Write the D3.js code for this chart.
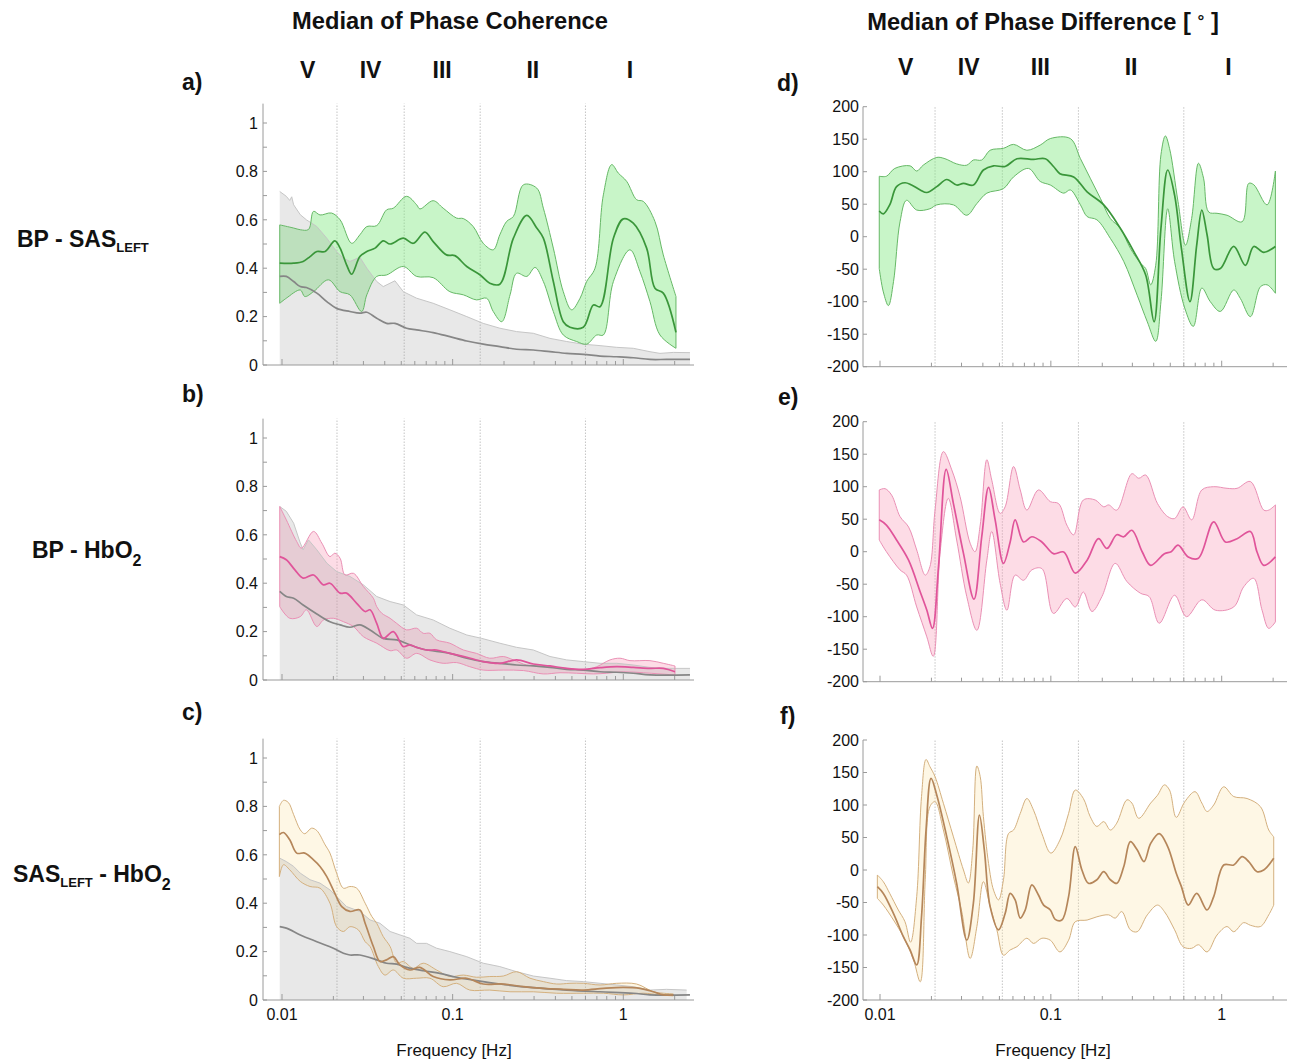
<!DOCTYPE html>
<html><head><meta charset="utf-8">
<script src="https://cdn.jsdelivr.net/npm/d3@7"></script>
<style>
body{margin:0;background:#fff;}
text{font-family:"Liberation Sans",Arial,Helvetica,sans-serif;fill:#111;}
</style>
</head><body>
<svg id="chart" width="1298" height="1063"></svg>
<script>
// ---------------- DATA ([frequency Hz, value]) ----------------
const bandEdgesHz = [0.0095, 0.021, 0.052, 0.145, 0.6, 2.0];
const bandNames = ["V", "IV", "III", "II", "I"];
const bandDividers = [0.021, 0.052, 0.145, 0.6];
const cohTickLabels = [0, 0.2, 0.4, 0.6, 0.8, 1];
const phaseTickLabels = [-200, -150, -100, -50, 0, 50, 100, 150, 200];
const freqTickLabels = [[0.01, "0.01"], [0.1, "0.1"], [1, "1"]];

// a) BP - SAS_LEFT coherence
const aGrayUpper = [[0.0097,0.717],[0.0106,0.697],[0.0111,0.68],[0.0114,0.695],[0.0117,0.662],[0.0128,0.621],[0.0139,0.600],[0.0160,0.572],[0.0183,0.524],[0.0209,0.469],[0.0229,0.441],[0.0250,0.428],[0.0286,0.445],[0.0314,0.400],[0.0359,0.345],[0.0392,0.324],[0.0459,0.348],[0.0514,0.303],[0.0615,0.276],[0.0769,0.255],[0.0963,0.228],[0.121,0.200],[0.151,0.172],[0.189,0.152],[0.237,0.138],[0.297,0.131],[0.372,0.110],[0.466,0.097],[0.583,0.086],[0.731,0.080],[0.915,0.073],[1.144,0.069],[1.433,0.055],[1.64,0.048],[1.963,0.052],[2.459,0.051]];
const aGrayMedian = [[0.0097,0.366],[0.0106,0.366],[0.0117,0.345],[0.0128,0.324],[0.0139,0.320],[0.0160,0.297],[0.0183,0.262],[0.0209,0.234],[0.0250,0.221],[0.0286,0.214],[0.0314,0.218],[0.0359,0.193],[0.0410,0.172],[0.0459,0.172],[0.0537,0.152],[0.0615,0.145],[0.0769,0.134],[0.0963,0.117],[0.121,0.099],[0.151,0.086],[0.189,0.076],[0.237,0.065],[0.297,0.062],[0.372,0.055],[0.466,0.048],[0.583,0.044],[0.731,0.037],[0.915,0.034],[1.144,0.030],[1.433,0.023],[1.794,0.023],[2.459,0.023]];
const aUpper = [[0.0097,0.579],[0.0117,0.566],[0.0128,0.559],[0.0143,0.56],[0.0153,0.635],[0.0167,0.62],[0.0195,0.628],[0.0219,0.60],[0.0256,0.503],[0.0286,0.538],[0.0314,0.572],[0.0359,0.576],[0.0410,0.641],[0.0449,0.648],[0.0537,0.697],[0.0615,0.662],[0.0643,0.645],[0.0769,0.679],[0.0880,0.648],[0.1055,0.607],[0.1155,0.605],[0.132,0.572],[0.151,0.503],[0.173,0.476],[0.189,0.538],[0.207,0.593],[0.227,0.614],[0.260,0.745],[0.311,0.731],[0.340,0.648],[0.389,0.483],[0.445,0.303],[0.498,0.228],[0.558,0.276],[0.610,0.345],[0.683,0.40],[0.764,0.703],[0.855,0.828],[0.935,0.793],[1.046,0.759],[1.197,0.683],[1.31,0.676],[1.533,0.593],[1.715,0.455],[2.035,0.283]];
const aMedian = [[0.0097,0.421],[0.0117,0.421],[0.0133,0.428],[0.0146,0.448],[0.0160,0.469],[0.0179,0.469],[0.0204,0.513],[0.0219,0.483],[0.0239,0.414],[0.0256,0.375],[0.0286,0.448],[0.0314,0.469],[0.0351,0.483],[0.0392,0.513],[0.0430,0.500],[0.0514,0.524],[0.0588,0.503],[0.0688,0.549],[0.0769,0.510],[0.0920,0.455],[0.103,0.452],[0.121,0.407],[0.145,0.372],[0.165,0.338],[0.189,0.334],[0.227,0.524],[0.272,0.618],[0.311,0.566],[0.340,0.524],[0.389,0.345],[0.445,0.179],[0.487,0.156],[0.583,0.156],[0.668,0.248],[0.731,0.241],[0.875,0.524],[1.0,0.604],[1.144,0.586],[1.37,0.483],[1.533,0.317],[1.715,0.297],[2.035,0.135]];
const aLower = [[0.0097,0.255],[0.0106,0.276],[0.0128,0.310],[0.0136,0.283],[0.0153,0.303],[0.0187,0.352],[0.0219,0.303],[0.0250,0.290],[0.0293,0.221],[0.0314,0.290],[0.0359,0.366],[0.0410,0.372],[0.0514,0.407],[0.0615,0.366],[0.0769,0.361],[0.0963,0.303],[0.1155,0.290],[0.138,0.269],[0.158,0.276],[0.173,0.221],[0.194,0.179],[0.217,0.290],[0.237,0.379],[0.272,0.366],[0.304,0.403],[0.340,0.345],[0.389,0.221],[0.445,0.124],[0.533,0.097],[0.610,0.086],[0.699,0.124],[0.764,0.124],[0.875,0.345],[1.094,0.476],[1.252,0.386],[1.433,0.262],[1.64,0.124],[2.035,0.069]];

// b) BP - HbO2 coherence
const bGrayUpper = [[0.0097,0.717],[0.0106,0.697],[0.0117,0.648],[0.0128,0.566],[0.0133,0.538],[0.0143,0.579],[0.0160,0.538],[0.0183,0.483],[0.0209,0.448],[0.0250,0.428],[0.0300,0.393],[0.0359,0.345],[0.0430,0.324],[0.0514,0.310],[0.0615,0.269],[0.0769,0.248],[0.0963,0.214],[0.121,0.186],[0.148,0.172],[0.189,0.152],[0.237,0.135],[0.297,0.124],[0.372,0.097],[0.466,0.083],[0.583,0.076],[0.731,0.069],[0.915,0.069],[1.144,0.062],[1.433,0.052],[1.794,0.048],[2.459,0.048]];
const bGrayMedian = [[0.0097,0.366],[0.0106,0.345],[0.0117,0.338],[0.0133,0.310],[0.0160,0.273],[0.0191,0.241],[0.0219,0.228],[0.0250,0.218],[0.0286,0.228],[0.0328,0.207],[0.0392,0.172],[0.0470,0.166],[0.0562,0.145],[0.0672,0.127],[0.0963,0.110],[0.121,0.090],[0.151,0.076],[0.189,0.069],[0.237,0.062],[0.297,0.058],[0.372,0.052],[0.466,0.044],[0.583,0.041],[0.731,0.034],[0.915,0.032],[1.144,0.028],[1.433,0.021],[2.459,0.021]];
const bUpper = [[0.0097,0.717],[0.0106,0.662],[0.0122,0.572],[0.0130,0.545],[0.0153,0.614],[0.0171,0.566],[0.0191,0.510],[0.0204,0.524],[0.0219,0.503],[0.0234,0.434],[0.0262,0.441],[0.0300,0.386],[0.0343,0.338],[0.0359,0.303],[0.0384,0.276],[0.0430,0.255],[0.0470,0.234],[0.0537,0.207],[0.0615,0.214],[0.0672,0.193],[0.0736,0.193],[0.0805,0.166],[0.0963,0.152],[0.1155,0.124],[0.138,0.110],[0.165,0.090],[0.198,0.097],[0.227,0.083],[0.272,0.062],[0.325,0.062],[0.372,0.055],[0.466,0.048],[0.583,0.041],[0.699,0.055],[0.836,0.083],[0.957,0.090],[1.094,0.080],[1.433,0.080],[1.715,0.069],[2.008,0.058]];
const bMedian = [[0.0097,0.510],[0.0106,0.497],[0.0119,0.455],[0.0133,0.421],[0.0153,0.434],[0.0175,0.393],[0.0191,0.400],[0.0219,0.359],[0.0239,0.359],[0.0274,0.317],[0.0307,0.283],[0.0328,0.290],[0.0359,0.234],[0.0392,0.172],[0.0449,0.200],[0.0514,0.138],[0.0562,0.145],[0.0615,0.135],[0.0703,0.124],[0.0805,0.124],[0.0963,0.110],[0.121,0.094],[0.151,0.076],[0.189,0.069],[0.237,0.083],[0.297,0.066],[0.372,0.058],[0.466,0.048],[0.583,0.044],[0.731,0.051],[0.915,0.055],[1.144,0.052],[1.433,0.048],[1.715,0.048],[2.008,0.034]];
const bLower = [[0.0097,0.303],[0.0111,0.255],[0.0128,0.262],[0.0139,0.290],[0.0160,0.221],[0.0175,0.248],[0.0200,0.255],[0.0229,0.241],[0.0262,0.221],[0.0300,0.179],[0.0359,0.152],[0.0430,0.121],[0.0470,0.124],[0.0537,0.090],[0.0615,0.110],[0.0736,0.083],[0.0880,0.069],[0.1055,0.072],[0.126,0.055],[0.151,0.041],[0.198,0.041],[0.260,0.039],[0.340,0.025],[0.426,0.030],[0.533,0.028],[0.668,0.025],[0.80,0.028],[1.0,0.034],[1.31,0.030],[1.64,0.025],[2.008,0.021]];

// c) SAS_LEFT - HbO2 coherence
const cGrayUpper = [[0.0097,0.586],[0.0106,0.572],[0.0117,0.552],[0.0128,0.524],[0.0146,0.497],[0.0167,0.483],[0.0191,0.455],[0.0209,0.428],[0.0239,0.386],[0.0286,0.366],[0.0328,0.331],[0.0375,0.317],[0.0430,0.283],[0.0491,0.269],[0.0562,0.255],[0.0615,0.234],[0.0703,0.234],[0.0805,0.214],[0.0963,0.200],[0.121,0.179],[0.151,0.152],[0.189,0.138],[0.237,0.117],[0.297,0.099],[0.372,0.090],[0.466,0.080],[0.583,0.076],[0.731,0.069],[0.915,0.062],[1.144,0.055],[1.433,0.041],[1.794,0.044],[2.35,0.041]];
const cGrayMedian = [[0.0097,0.303],[0.0106,0.297],[0.0128,0.269],[0.0160,0.241],[0.0200,0.214],[0.0229,0.193],[0.0250,0.186],[0.0286,0.186],[0.0359,0.166],[0.0410,0.152],[0.0470,0.148],[0.0537,0.135],[0.0672,0.121],[0.0841,0.110],[0.1055,0.094],[0.138,0.080],[0.189,0.066],[0.297,0.051],[0.466,0.041],[0.731,0.034],[1.144,0.028],[1.433,0.021],[2.459,0.021]];
const cUpper = [[0.00965,0.800],[0.0102,0.825],[0.0109,0.816],[0.0117,0.766],[0.0128,0.703],[0.0136,0.687],[0.0149,0.710],[0.0160,0.700],[0.0179,0.641],[0.0191,0.607],[0.0209,0.524],[0.0229,0.462],[0.0250,0.469],[0.0274,0.462],[0.0307,0.400],[0.0336,0.345],[0.0359,0.317],[0.0392,0.262],[0.0430,0.221],[0.0470,0.152],[0.0514,0.159],[0.0588,0.131],[0.0672,0.152],[0.0805,0.124],[0.0963,0.097],[0.1155,0.103],[0.138,0.094],[0.165,0.097],[0.198,0.099],[0.237,0.117],[0.284,0.090],[0.340,0.076],[0.407,0.066],[0.487,0.069],[0.583,0.069],[0.731,0.062],[0.915,0.069],[1.197,0.066],[1.499,0.034],[1.715,0.028],[1.963,0.025]];
const cMedian = [[0.00965,0.683],[0.0102,0.692],[0.0111,0.662],[0.0122,0.607],[0.0136,0.607],[0.0153,0.579],[0.0167,0.552],[0.0183,0.510],[0.0204,0.441],[0.0224,0.386],[0.0250,0.366],[0.0286,0.372],[0.0307,0.317],[0.0343,0.221],[0.0375,0.159],[0.0410,0.166],[0.0449,0.179],[0.0491,0.145],[0.0562,0.124],[0.0643,0.135],[0.0769,0.097],[0.0963,0.083],[0.121,0.090],[0.151,0.066],[0.198,0.066],[0.260,0.055],[0.340,0.048],[0.445,0.044],[0.583,0.041],[0.764,0.048],[1.0,0.052],[1.252,0.048],[1.499,0.034],[1.715,0.021],[1.963,0.021]];
const cLower = [[0.00965,0.510],[0.0102,0.559],[0.0111,0.538],[0.0128,0.490],[0.0146,0.469],[0.0167,0.462],[0.0191,0.400],[0.0209,0.303],[0.0229,0.283],[0.0250,0.303],[0.0280,0.290],[0.0307,0.241],[0.0328,0.221],[0.0367,0.138],[0.0401,0.103],[0.0449,0.124],[0.0514,0.090],[0.0615,0.090],[0.0736,0.090],[0.0880,0.055],[0.1055,0.069],[0.126,0.041],[0.165,0.041],[0.217,0.034],[0.297,0.034],[0.407,0.028],[0.583,0.028],[0.764,0.028],[1.0,0.021],[1.31,0.028],[1.64,0.021],[1.963,0.017]];

// d) BP - SAS_LEFT phase
const dUpper = [[0.0099,93],[0.0109,93],[0.0122,105],[0.0150,109],[0.0164,101],[0.0179,110],[0.0215,122],[0.0240,120],[0.0281,112],[0.0322,110],[0.0352,118],[0.0394,118],[0.0441,133],[0.0528,136],[0.0605,142],[0.0724,133],[0.0867,141],[0.0993,151],[0.130,151],[0.149,120],[0.170,90],[0.195,59],[0.223,28],[0.255,13],[0.292,-18],[0.335,-41],[0.359,-49],[0.384,-74],[0.411,-44],[0.441,126],[0.468,155],[0.495,136],[0.555,54],[0.614,-13],[0.667,28],[0.731,113],[0.783,90],[0.839,38],[0.939,36],[1.075,33],[1.316,23],[1.439,82],[1.54,80],[1.843,49],[2.062,101]];
const dMedian = [[0.0099,39.5],[0.01046,35],[0.0114,49],[0.0125,77],[0.0140,83],[0.0153,79.5],[0.0172,72],[0.0188,68],[0.0215,77],[0.0246,88],[0.0281,79.5],[0.0308,82],[0.0352,79.5],[0.0403,102.6],[0.0462,109],[0.0540,108],[0.0633,120],[0.0792,119],[0.0928,120],[0.1036,108],[0.113,97],[0.136,92],[0.163,69],[0.204,49],[0.255,13],[0.306,-23],[0.359,-59],[0.402,-131],[0.441,13],[0.483,102.6],[0.530,64],[0.581,-18],[0.652,-100],[0.714,-13],[0.765,41],[0.821,3],[0.898,-49],[0.982,-49],[1.176,-15],[1.376,-44],[1.54,-15],[1.762,-24],[2.062,-15]];
const dLower = [[0.0099,-49],[0.01046,-85],[0.0112,-106],[0.0120,-69],[0.0131,23],[0.0143,56],[0.0164,41],[0.0196,43],[0.0215,49],[0.0269,49],[0.0322,33],[0.0369,51],[0.0422,67],[0.0528,74],[0.0605,92],[0.0740,105],[0.0867,85],[0.0993,79.5],[0.119,67],[0.130,72],[0.149,49],[0.163,31],[0.186,26],[0.223,-2.6],[0.267,-38],[0.320,-90],[0.367,-131],[0.411,-161],[0.441,-100],[0.483,43],[0.530,-38],[0.608,-110],[0.682,-138],[0.765,-79],[0.858,-100],[0.982,-115],[1.176,-82],[1.286,-95],[1.472,-123],[1.685,-77],[1.843,-74],[2.062,-87]];

// e) BP - HbO2 phase
const eUpper = [[0.0099,95],[0.0107,97],[0.0117,87],[0.0131,54],[0.0147,38],[0.0164,2.6],[0.0184,-36],[0.0196,-23],[0.0210,64],[0.0235,154],[0.0263,126],[0.0294,85],[0.0337,13],[0.0360,0],[0.0386,41],[0.0422,141.5],[0.0451,110],[0.0505,59],[0.0540,69],[0.0605,131],[0.0662,95],[0.0724,64],[0.0846,95],[0.0993,77],[0.111,74],[0.124,41],[0.136,26],[0.155,79.5],[0.182,79.5],[0.204,69],[0.218,72],[0.243,64],[0.298,120],[0.327,113],[0.359,118],[0.421,74],[0.483,54],[0.530,51],[0.594,69],[0.667,49],[0.765,95],[0.898,100],[1.075,97.5],[1.23,97.5],[1.472,108],[1.762,64],[1.885,64],[2.062,72]];
const eMedian = [[0.0099,49],[0.0109,41],[0.0125,18],[0.0147,-13],[0.0172,-62],[0.0188,-90],[0.0203,-118],[0.0220,-23],[0.0244,126.7],[0.0269,74],[0.0308,-2.6],[0.0355,-73],[0.0394,23],[0.0432,99],[0.0472,49],[0.0528,-18],[0.0578,15],[0.0618,49],[0.0692,15],[0.0774,23],[0.0886,15],[0.1036,-3],[0.119,-0.5],[0.139,-33],[0.163,-13],[0.190,20],[0.213,5],[0.243,26],[0.267,23],[0.298,33],[0.343,-0.5],[0.384,-21],[0.462,-3],[0.506,0],[0.555,10],[0.637,-8],[0.731,-10],[0.898,46],[1.051,15],[1.23,20],[1.472,31],[1.61,-0.5],[1.762,-21],[2.062,-8]];
const eLower = [[0.0099,18],[0.0109,0],[0.0131,-28],[0.0143,-36],[0.0164,-85],[0.0188,-131],[0.0205,-161],[0.0225,0],[0.0251,82],[0.0281,18],[0.0322,-69],[0.0369,-121],[0.0422,-13],[0.0451,31],[0.0505,-49],[0.0553,-90],[0.0618,-36],[0.0692,-44],[0.0774,-28],[0.0886,-26],[0.1036,-95],[0.124,-72],[0.139,-85],[0.155,-62],[0.174,-92],[0.199,-69],[0.238,-18],[0.279,-46],[0.335,-64],[0.376,-69],[0.431,-110],[0.530,-67],[0.622,-100],[0.765,-74],[0.919,-90],[1.176,-85],[1.345,-54],[1.54,-41],[1.723,-90],[1.885,-118],[2.062,-108]];

// f) SAS_LEFT - HbO2 phase
const fUpper = [[0.00965,-7.7],[0.01046,-18],[0.0114,-36],[0.0128,-61.5],[0.0140,-79.5],[0.0151,-111],[0.0164,-41],[0.0175,113],[0.0186,170],[0.0196,159],[0.0210,143.6],[0.0235,102.6],[0.0269,51],[0.0308,0],[0.0329,-20],[0.0349,31],[0.0369,160],[0.0386,143.6],[0.0403,82],[0.0432,10],[0.0462,-31],[0.0494,-46],[0.0528,-15],[0.0565,56],[0.0605,61.5],[0.0662,87],[0.0724,110],[0.0792,92],[0.0886,56],[0.100,26],[0.113,46],[0.127,87],[0.139,123],[0.155,110],[0.170,82],[0.186,67],[0.204,74.5],[0.223,61.5],[0.243,72],[0.279,108],[0.298,103],[0.327,79.5],[0.384,103],[0.421,115],[0.462,131],[0.495,123],[0.542,81],[0.608,105],[0.698,120.5],[0.765,103],[0.821,90],[0.898,100],[1.027,128],[1.176,113],[1.407,110],[1.685,97.5],[1.885,61.5],[2.016,51]];
const fMedian = [[0.00965,-25.6],[0.01046,-36],[0.0120,-67],[0.0137,-102.6],[0.0150,-123],[0.0164,-146],[0.0175,-72],[0.0186,61.5],[0.0199,141],[0.0215,115],[0.0246,51],[0.0281,-20.5],[0.0322,-108],[0.0352,-51],[0.0382,84.6],[0.0408,31],[0.0441,-56],[0.0494,-92],[0.0540,-67],[0.0578,-36],[0.0618,-46],[0.0662,-74],[0.0708,-61.5],[0.0774,-23],[0.0846,-38.5],[0.0907,-54],[0.0993,-61.5],[0.106,-76],[0.116,-77],[0.127,-41],[0.139,36],[0.152,0],[0.166,-20.5],[0.186,-15],[0.204,-2.6],[0.223,-15],[0.243,-20.5],[0.267,5],[0.292,43.6],[0.320,31],[0.351,13],[0.384,41],[0.431,56],[0.483,36],[0.542,-5],[0.581,-25.6],[0.637,-54],[0.714,-36],[0.821,-61.5],[0.898,-41],[1.027,7.7],[1.176,7.7],[1.316,20.5],[1.439,13],[1.61,-2.6],[1.762,0],[2.016,18]];
const fLower = [[0.00965,-43.6],[0.01046,-54],[0.0120,-77],[0.0137,-102.6],[0.0157,-138],[0.0172,-172],[0.0184,-15],[0.0196,97.5],[0.0210,105],[0.0235,61.5],[0.0269,-10],[0.0301,-64],[0.0337,-136],[0.0369,-87],[0.0403,-18],[0.0441,-56],[0.0483,-92],[0.0528,-131],[0.0578,-123],[0.0633,-118],[0.0724,-105],[0.0792,-113],[0.0886,-105],[0.0993,-108],[0.113,-126],[0.127,-108],[0.139,-79.5],[0.163,-77],[0.186,-72],[0.218,-69],[0.238,-74],[0.260,-64],[0.292,-92],[0.320,-95],[0.367,-69],[0.421,-54],[0.462,-64],[0.530,-92],[0.594,-118],[0.667,-120.5],[0.731,-115],[0.821,-126],[0.939,-100],[1.075,-87],[1.176,-95],[1.345,-81],[1.472,-85],[1.685,-87],[1.885,-69],[2.016,-54]];

// ---------------- DRAWING ----------------
const svg = d3.select("#chart");

const styles = {
  green: {fill: "rgba(125,230,125,0.42)", edge: "#66b866", med: "#3a963a"},
  pink:  {fill: "rgba(250,150,180,0.33)", edge: "#ea90b5", med: "#e0549a"},
  beige: {fill: "rgba(250,228,160,0.28)", edge: "#d4b07e", med: "#b5865a"}
};

const panels = [
  {col: 0, y0: 365, y1: 123, up: aUpper, med: aMedian, low: aLower, gUp: aGrayUpper, gMed: aGrayMedian, st: styles.green, letter: "a)", lx: 182, ly: 90, xlab: false},
  {col: 0, y0: 680, y1: 438, up: bUpper, med: bMedian, low: bLower, gUp: bGrayUpper, gMed: bGrayMedian, st: styles.pink, letter: "b)", lx: 182, ly: 402, xlab: false},
  {col: 0, y0: 1000, y1: 758, up: cUpper, med: cMedian, low: cLower, gUp: cGrayUpper, gMed: cGrayMedian, st: styles.beige, letter: "c)", lx: 182, ly: 720, xlab: true},
  {col: 1, y0: 366.7, y1: 106.7, up: dUpper, med: dMedian, low: dLower, st: styles.green, letter: "d)", lx: 777, ly: 91, xlab: false},
  {col: 1, y0: 681.7, y1: 421.7, up: eUpper, med: eMedian, low: eLower, st: styles.pink, letter: "e)", lx: 778, ly: 405, xlab: false},
  {col: 1, y0: 1000, y1: 740, up: fUpper, med: fMedian, low: fLower, st: styles.beige, letter: "f)", lx: 780, ly: 724, xlab: true}
];

const colGeom = [
  {x001: 282, x1: 623.3, axisX: 263, axisEnd: 694},
  {x001: 880, x1: 1221.7, axisX: 863, axisEnd: 1287}
];

const logTicks = d3.scaleLog().domain([0.01, 2.5]).ticks();

panels.forEach(p => {
  const g = colGeom[p.col];
  const x = d3.scaleLog().domain([0.01, 1]).range([g.x001, g.x1]);
  const isPhase = p.col === 1;
  const y = isPhase ? d3.scaleLinear().domain([-200, 200]).range([p.y0, p.y1])
                    : d3.scaleLinear().domain([0, 1]).range([p.y0, p.y1]);
  const yBottom = isPhase ? y(-200) : y(0);
  const yTop = isPhase ? y(200) : y(1.08);
  const G = svg.append("g");

  // dotted band dividers
  bandDividers.forEach(f => {
    G.append("line").attr("x1", x(f)).attr("x2", x(f)).attr("y1", yBottom).attr("y2", yTop)
      .attr("stroke", "#c4c4c4").attr("stroke-width", 1).attr("stroke-dasharray", "1.5,1.5");
  });

  const smooth = d3.line().x(d => x(d[0])).y(d => y(d[1])).curve(d3.curveCatmullRom.alpha(0.5));
  const bandPath = smooth(p.up) + smooth(p.low.slice().reverse()).replace(/^M/, "L") + "Z";

  // coloured band fill
  G.append("path").attr("d", bandPath).attr("fill", p.st.fill).attr("stroke", "none");

  // gray surrogate band (coherence panels)
  if (p.gUp) {
    const area = d3.area().x(d => x(d[0])).y0(y(0)).y1(d => y(d[1])).curve(d3.curveLinear);
    G.append("path").attr("d", area(p.gUp)).attr("fill", "rgba(150,150,150,0.22)").attr("stroke", "none");
    const lin = d3.line().x(d => x(d[0])).y(d => y(d[1])).curve(d3.curveLinear);
    G.append("path").attr("d", lin(p.gUp)).attr("fill", "none").attr("stroke", "#c6c6c6").attr("stroke-width", 1);
  }

  // band edges
  G.append("path").attr("d", bandPath).attr("fill", "none").attr("stroke", p.st.edge).attr("stroke-width", 1);

  if (p.gMed) {
    G.append("path").attr("d", smooth(p.gMed)).attr("fill", "none").attr("stroke", "#868686").attr("stroke-width", 1.7);
  }
  G.append("path").attr("d", smooth(p.med)).attr("fill", "none").attr("stroke", p.st.med).attr("stroke-width", 1.7);

  // axes
  const axisColor = "#9a9a9a";
  G.append("line").attr("x1", g.axisX).attr("x2", g.axisX).attr("y1", yBottom).attr("y2", yTop)
    .attr("stroke", axisColor).attr("stroke-width", 1);
  G.append("line").attr("x1", g.axisX).attr("x2", g.axisEnd).attr("y1", yBottom).attr("y2", yBottom)
    .attr("stroke", axisColor).attr("stroke-width", 1);

  // x ticks (log)
  logTicks.forEach(t => {
    const major = [0.01, 0.1, 1].includes(t);
    G.append("line").attr("x1", x(t)).attr("x2", x(t)).attr("y1", yBottom).attr("y2", yBottom - (major ? 6 : 4))
      .attr("stroke", axisColor).attr("stroke-width", 1);
  });
  if (p.xlab) {
    freqTickLabels.forEach(([v, s]) => {
      G.append("text").attr("x", x(v)).attr("y", yBottom + 20).attr("text-anchor", "middle")
        .attr("font-size", 16).text(s);
    });
    G.append("text").attr("x", p.col === 0 ? 454 : 1053).attr("y", 1056).attr("text-anchor", "middle")
      .attr("font-size", 17).text("Frequency [Hz]");
  }

  // y ticks
  if (isPhase) {
    phaseTickLabels.forEach(v => {
      G.append("line").attr("x1", g.axisX).attr("x2", g.axisX + 4).attr("y1", y(v)).attr("y2", y(v))
        .attr("stroke", axisColor);
      G.append("text").attr("x", g.axisX - 4).attr("y", y(v)).attr("dy", "0.36em").attr("text-anchor", "end")
        .attr("font-size", 16).text(v);
    });
  } else {
    y.ticks(10).forEach(v => {
      G.append("line").attr("x1", g.axisX).attr("x2", g.axisX + 4).attr("y1", y(v)).attr("y2", y(v))
        .attr("stroke", axisColor);
    });
    cohTickLabels.forEach(v => {
      G.append("text").attr("x", g.axisX - 5).attr("y", y(v)).attr("dy", "0.36em").attr("text-anchor", "end")
        .attr("font-size", 16).text(v);
    });
  }

  // panel letter
  svg.append("text").attr("x", p.lx).attr("y", p.ly).attr("font-size", 23).attr("font-weight", "bold").text(p.letter);
});

// band roman numerals
[{x: d3.scaleLog().domain([0.01, 1]).range([282, 623.3]), yb: 78},
 {x: d3.scaleLog().domain([0.01, 1]).range([880, 1221.7]), yb: 75}].forEach(c => {
  bandNames.forEach((n, i) => {
    const fc = Math.sqrt(bandEdgesHz[i] * bandEdgesHz[i + 1]);
    svg.append("text").attr("x", c.x(fc)).attr("y", c.yb).attr("text-anchor", "middle")
      .attr("font-size", 23).attr("font-weight", "bold").text(n);
  });
});

// column titles
svg.append("text").attr("x", 450).attr("y", 29).attr("text-anchor", "middle").attr("font-size", 23.7)
  .attr("font-weight", "bold").text("Median of Phase Coherence");
const t2 = svg.append("text").attr("x", 1043).attr("y", 30).attr("text-anchor", "middle").attr("font-size", 23.7)
  .attr("font-weight", "bold");
t2.append("tspan").text("Median of Phase Difference [ ");
t2.append("tspan").attr("font-size", 17).attr("dy", -3).text("°");
t2.append("tspan").attr("dy", 3).text(" ]");

// row labels
(function () {
  const t1 = svg.append("text").attr("x", 17).attr("y", 247).attr("font-weight", "bold").attr("font-size", 23);
  t1.append("tspan").text("BP - SAS");
  t1.append("tspan").attr("font-size", 13).attr("dy", 5).text("LEFT");
  const tb = svg.append("text").attr("x", 32).attr("y", 558).attr("font-weight", "bold").attr("font-size", 23);
  tb.append("tspan").text("BP - HbO");
  tb.append("tspan").attr("font-size", 16).attr("dy", 8).text("2");
  const t3 = svg.append("text").attr("x", 13).attr("y", 882).attr("font-weight", "bold").attr("font-size", 23);
  t3.append("tspan").text("SAS");
  t3.append("tspan").attr("font-size", 13).attr("dy", 5).text("LEFT");
  t3.append("tspan").attr("dy", -5).text(" - HbO");
  t3.append("tspan").attr("font-size", 16).attr("dy", 8).text("2");
})();
</script>
</body></html>
